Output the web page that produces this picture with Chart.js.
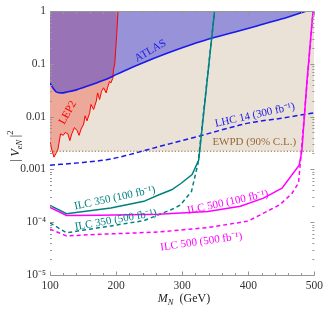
<!DOCTYPE html>
<html><head><meta charset="utf-8">
<script src="https://cdn.jsdelivr.net/npm/chart.js@4"></script>
<style>html,body{margin:0;padding:0;background:#fff}#wrap{width:327px;height:309px}canvas{display:block}</style>
</head><body>
<div id="wrap"><canvas id="c" width="327" height="309"></canvas></div>
<script>
// ---------- data ----------
const xTicks = [100, 200, 300, 400, 500];
const yTicks = [1e-5, 1e-4, 1e-3, 1e-2, 1e-1, 1];
const yTickLabels = ['10\u207B\u2075', '10\u207B\u2074', '0.001', '0.01', '0.1', '1'];

const ewpdM = [100, 500];
const ewpdV = [0.0022, 0.0022];

const atlasM = [100, 105, 110, 118, 125, 140, 152, 165, 182, 195, 212, 240, 274, 300, 339, 380, 413, 450, 488];
const atlasV = [0.043, 0.034, 0.029, 0.028, 0.029, 0.032, 0.036, 0.041, 0.049, 0.058, 0.073, 0.103, 0.152, 0.2, 0.29, 0.4, 0.52, 0.7, 1.0];

const lep2M = [100, 103, 106, 110, 112, 116, 120, 123, 127, 130, 133, 137, 141, 144, 147, 151, 153, 156, 160, 162, 166, 170, 172, 175, 178, 181, 185, 187, 190, 192, 195, 196, 198, 201, 203];
const lep2V = [0.0033, 0.0023, 0.0017, 0.0021, 0.0024, 0.0047, 0.0044, 0.005, 0.0047, 0.0035, 0.0047, 0.0062, 0.0054, 0.0044, 0.0058, 0.0072, 0.0103, 0.0083, 0.0118, 0.0169, 0.0136, 0.0195, 0.028, 0.021, 0.030, 0.035, 0.028, 0.035, 0.046, 0.043, 0.053, 0.076, 0.10, 0.37, 1.0];

const lhcM = [100, 150, 190, 220, 260, 300, 330, 360, 400, 450, 500];
const lhcV = [0.0012, 0.00135, 0.00155, 0.0019, 0.0026, 0.0035, 0.0044, 0.0056, 0.0075, 0.0093, 0.0118];

const ilc350aM = [100, 125, 192, 242, 265, 284, 298, 315, 325, 349];
const ilc350aV = [2.08e-4, 1.45e-4, 1.86e-4, 2.48e-4, 3.3e-4, 4.1e-4, 5.4e-4, 8e-4, 1.5e-3, 1.0];

const ilc350bM = [100, 125, 192, 242, 284, 297, 314, 324, 349];
const ilc350bV = [9.7e-5, 6.3e-5, 8.5e-5, 1.07e-4, 1.74e-4, 2.1e-4, 3.8e-4, 1.3e-3, 1.0];

const ilc500aM = [100, 125, 175, 264, 339, 388, 423, 451, 477, 481, 489, 498];
const ilc500aV = [1.9e-4, 1.34e-4, 1.36e-4, 1.42e-4, 1.6e-4, 2.0e-4, 2.85e-4, 4.4e-4, 1.2e-3, 2.2e-3, 0.05, 1.0];

const ilc500bM = [100, 125, 175, 264, 339, 400, 448, 466, 476, 480, 489, 498];
const ilc500bV = [7.4e-5, 5.5e-5, 5.9e-5, 6.5e-5, 7.9e-5, 1.05e-4, 2.15e-4, 3.5e-4, 5.5e-4, 2.0e-3, 0.045, 1.0];

// ---------- styles ----------
const SERIF = '"Liberation Serif", "Times New Roman", serif';
const BLUE = 'rgb(25,25,235)';
const TEAL = 'rgb(0,128,128)';
const MAG = 'rgb(255,0,255)';
const RED = 'rgb(255,0,0)';
const BROWN = 'rgb(150,105,55)';

const pts = (M, V) => M.map((m, i) => ({x: m, y: V[i]}));

const base = {pointRadius: 0, pointHoverRadius: 0, tension: 0, fill: false, borderWidth: 1.5};

const datasets = [
  Object.assign({}, base, {label: 'ILC500 500', data: pts(ilc500bM, ilc500bV), borderColor: MAG, borderDash: [4, 3]}),
  Object.assign({}, base, {label: 'ILC500 100', data: pts(ilc500aM, ilc500aV), borderColor: MAG}),
  Object.assign({}, base, {label: 'ILC350 500', data: pts(ilc350bM, ilc350bV), borderColor: TEAL, borderDash: [4, 3]}),
  Object.assign({}, base, {label: 'ILC350 100', data: pts(ilc350aM, ilc350aV), borderColor: TEAL}),
  Object.assign({}, base, {label: 'LHC14', data: pts(lhcM, lhcV), borderColor: BLUE, borderDash: [5, 3], cubicInterpolationMode: 'monotone'}),
  Object.assign({}, base, {label: 'EWPD line', data: pts(ewpdM, ewpdV), borderColor: BROWN, borderWidth: 1.2, borderDash: [1.2, 2]}),
  Object.assign({}, base, {label: 'ATLAS line', data: pts(atlasM, atlasV), borderColor: BLUE, borderWidth: 1.6, cubicInterpolationMode: 'monotone'}),
  Object.assign({}, base, {label: 'LEP2 line', data: pts(lep2M, lep2V), borderColor: RED, borderWidth: 1}),
  Object.assign({}, base, {label: 'ATLAS fill', data: pts(atlasM, atlasV), borderColor: 'rgba(0,0,0,0)', borderWidth: 0.01, cubicInterpolationMode: 'monotone', fill: 'end', backgroundColor: 'rgba(50,50,220,0.45)'}),
  Object.assign({}, base, {label: 'LEP2 fill', data: pts(lep2M, lep2V), borderColor: 'rgba(0,0,0,0)', borderWidth: 0.01, fill: 'end', backgroundColor: 'rgb(236,168,152)'}),
  Object.assign({}, base, {label: 'EWPD fill', data: pts(ewpdM, ewpdV), borderColor: 'rgba(0,0,0,0)', borderWidth: 0.01, fill: 'end', backgroundColor: 'rgb(235,226,215)'})
];

const annotations = [
  {t: 'ATLAS', m: 252, v: 0.175, a: 30, c: BLUE},
  {t: 'LEP2', m: 127, v: 0.0118, a: 61, c: RED},
  {t: 'LHC 14 (300 fb\u207B\u00B9)', m: 410, v: 0.0106, a: 12.5, c: BLUE},
  {t: 'EWPD (90% C.L.)', m: 409, v: 0.00326, a: 0, c: BROWN},
  {t: 'ILC 350 (100 fb\u207B\u00B9)', m: 198, v: 2.85e-4, a: 12, c: TEAL},
  {t: 'ILC 350 (500 fb\u207B\u00B9)', m: 199.5, v: 1.1e-4, a: 10, c: TEAL},
  {t: 'ILC 500 (100 fb\u207B\u00B9)', m: 369, v: 2.37e-4, a: 12, c: MAG},
  {t: 'ILC 500 (500 fb\u207B\u00B9)', m: 329, v: 4.25e-5, a: 8, c: MAG}
];

const framePlugin = {
  id: 'frame',
  afterDatasetsDraw(chart) {
    const {ctx, chartArea: ca, scales: {x, y}} = chart;
    ctx.save();
    ctx.strokeStyle = 'rgb(150,150,150)';
    ctx.lineWidth = 1;
    const top = Math.round(ca.top) + 0.5, bot = Math.round(ca.bottom) + 0.5;
    ctx.beginPath();
    ctx.moveTo(ca.left, top); ctx.lineTo(ca.right, top);
    ctx.moveTo(ca.left, bot); ctx.lineTo(ca.right, bot);
    // x ticks (inward)
    for (let m = 100; m <= 500; m += 20) {
      const px = Math.round(x.getPixelForValue(m)) + 0.5;
      const len = (m % 100 === 0) ? 4 : 2.5;
      ctx.moveTo(px, bot); ctx.lineTo(px, bot - len);
      ctx.moveTo(px, top); ctx.lineTo(px, top + len);
    }
    // y ticks (inward)
    for (let n = -5; n <= 0; n++) {
      for (let k = 1; k <= 9; k++) {
        const v = k * Math.pow(10, n);
        if (v > 1.0000001) break;
        const py = Math.round(y.getPixelForValue(v)) + 0.5;
        const len = k === 1 ? 4 : 2;
        ctx.moveTo(ca.left, py); ctx.lineTo(ca.left + len, py);
        ctx.moveTo(ca.right, py); ctx.lineTo(ca.right - len, py);
      }
    }
    ctx.stroke();

    // annotations
    ctx.textAlign = 'center';
    ctx.textBaseline = 'middle';
    ctx.font = '11px ' + SERIF;
    annotations.forEach(an => {
      ctx.save();
      ctx.translate(x.getPixelForValue(an.m), y.getPixelForValue(an.v));
      ctx.rotate(-an.a * Math.PI / 180);
      ctx.fillStyle = an.c;
      ctx.fillText(an.t, 0, 0);
      ctx.restore();
    });

    // x axis title: M_N (GeV)
    ctx.fillStyle = '#222';
    ctx.textAlign = 'left';
    ctx.textBaseline = 'alphabetic';
    const fBig = '12px ' + SERIF, fBigI = 'italic 12px ' + SERIF, fSmI = 'italic 8.5px ' + SERIF;
    const parts = [[fBigI, 'M', 0], [fSmI, 'N', 3], [fBig, '  (GeV)', 0]];
    let w = 0;
    parts.forEach(p => { ctx.font = p[0]; w += ctx.measureText(p[1]).width; });
    let cx = 184 - w / 2;
    const by = 302;
    parts.forEach(p => { ctx.font = p[0]; ctx.fillText(p[1], cx, by + p[2]); cx += ctx.measureText(p[1]).width; });

    // y axis title: |V_eN|^2 (rotated)
    ctx.save();
    ctx.translate(15, 146);
    ctx.rotate(-Math.PI / 2);
    const yparts = [[fBig, '|', 0, 2.5], [fBigI, 'V', 0, 0], [fSmI, 'eN', 3, 2.5], [fBig, '|', 0, 0], ['8.5px ' + SERIF, '2', -6, 0]];
    let yw = 0;
    yparts.forEach(p => { ctx.font = p[0]; yw += ctx.measureText(p[1]).width + p[3]; });
    let yx = -yw / 2;
    yparts.forEach(p => { ctx.font = p[0]; ctx.fillText(p[1], yx, 4 + p[2]); yx += ctx.measureText(p[1]).width + p[3]; });
    ctx.restore();
    ctx.restore();
  }
};

new Chart(document.getElementById('c'), {
  type: 'line',
  data: {datasets},
  options: {
    responsive: false,
    animation: false,
    devicePixelRatio: 1,
    layout: {padding: {top: 7, right: 9, left: 0, bottom: 0}},
    plugins: {legend: {display: false}, tooltip: {enabled: false}},
    scales: {
      x: {
        type: 'linear', min: 100, max: 500, position: 'bottom',
        afterBuildTicks: s => { s.ticks = xTicks.map(v => ({value: v})); },
        afterFit: s => { s.height = 34; },
        grid: {display: false, drawTicks: false},
        border: {display: false},
        ticks: {font: {family: SERIF, size: 11.5}, color: '#333', padding: 4, maxRotation: 0, autoSkip: false}
      },
      y: {
        type: 'logarithmic', min: 1e-5, max: 1,
        afterBuildTicks: s => { s.ticks = yTicks.map(v => ({value: v})); },
        afterFit: s => { s.width = 50; },
        grid: {display: false, drawTicks: false},
        border: {display: false},
        ticks: {font: {family: SERIF, size: 11.5}, color: '#333', padding: 4, autoSkip: false,
          callback: (v, i) => yTickLabels[i]}
      }
    }
  },
  plugins: [framePlugin]
});
</script>
</body></html>
